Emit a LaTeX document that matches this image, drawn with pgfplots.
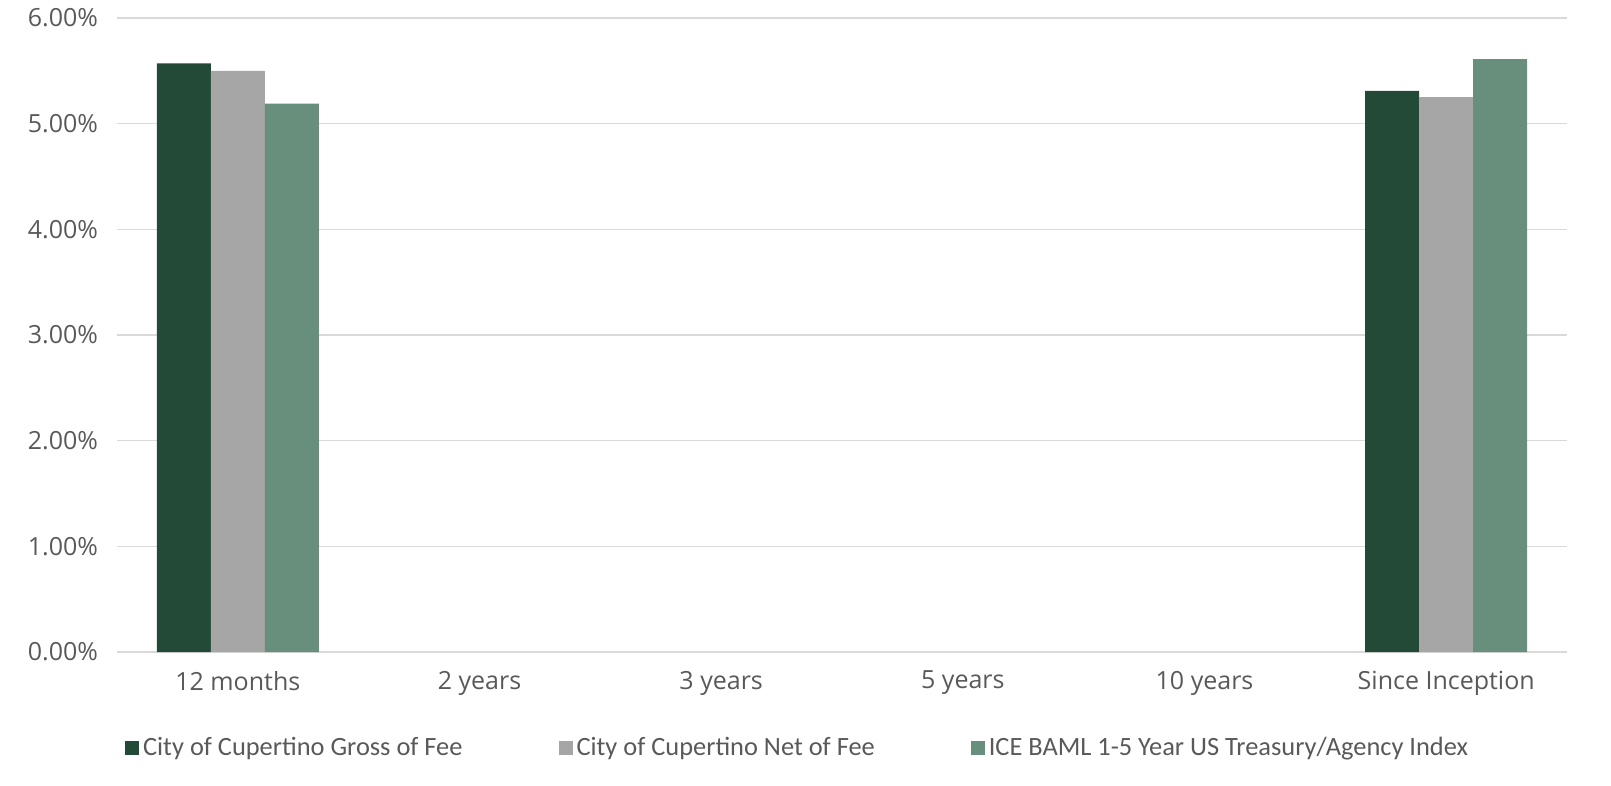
\documentclass[border=0pt]{standalone}
\usepackage{pgfplots}
\pgfplotsset{compat=1.18}
\usepackage{fontspec}
\setmainfont{Open Sans}
\newfontfamily\legfont{Carlito}

\definecolor{gross}{HTML}{224A36}
\definecolor{net}{HTML}{A6A6A6}
\definecolor{index}{HTML}{688F7B}
\definecolor{gridc}{HTML}{D9D9D9}
\definecolor{txt}{HTML}{595959}

\begin{document}
\begin{tikzpicture}
\begin{axis}[
  scale only axis,
  width=725pt, height=317pt,
  ybar=0pt, bar width=27pt,
  clip=false,
  xmin=-0.5, xmax=5.5,
  ymin=0, ymax=0.06,
  xtick={0,1,2,3,4,5},
  xticklabels={12 months,2 years,3 years,5 years,10 years,Since Inception},
  ytick={0,0.01,0.02,0.03,0.04,0.05,0.06},
  yticklabel={\pgfmathparse{\tick*100}\pgfmathprintnumber[fixed,fixed zerofill,precision=2]{\pgfmathresult}\%},
  /pgf/number format/assume math mode=true,
  scaled y ticks=false,
  ymajorgrids, grid style={gridc, line width=0.6pt},
  axis x line*=bottom,
  axis y line*=left,
  x axis line style={draw=gridc, line width=0.6pt, -},
  y axis line style={draw=none},
  major tick length=0pt,
  tick label style={font=\fontsize{12.5}{14}\selectfont, text=txt},
  yticklabel style={xshift=-6pt},
  xticklabel style={yshift=-6pt},
  legend columns=3,
  legend style={draw=none, fill=none, at={(0.470,-0.151)}, anchor=center,
    font=\legfont\fontsize{13.2}{15}\selectfont, text=txt,
    /tikz/every even column/.append style={column sep=46pt}},
  legend image code/.code={\fill[#1] (0pt,-3.5pt) rectangle (7pt,3.5pt);},
]
\addplot[draw=none, fill=gross] coordinates {(0,0.0557) (5,0.0531)};
\addplot[draw=none, fill=net] coordinates {(0,0.0550) (5,0.0525)};
\addplot[draw=none, fill=index] coordinates {(0,0.0519) (5,0.0561)};
\legend{City of Cupertino Gross of Fee, City of Cupertino Net of Fee, ICE BAML 1-5 Year US Treasury/Agency Index}
\path (rel axis cs:-0.0807,-0.2098) rectangle (rel axis cs:1.0303,1.0284);
\end{axis}
\end{tikzpicture}
\end{document}
